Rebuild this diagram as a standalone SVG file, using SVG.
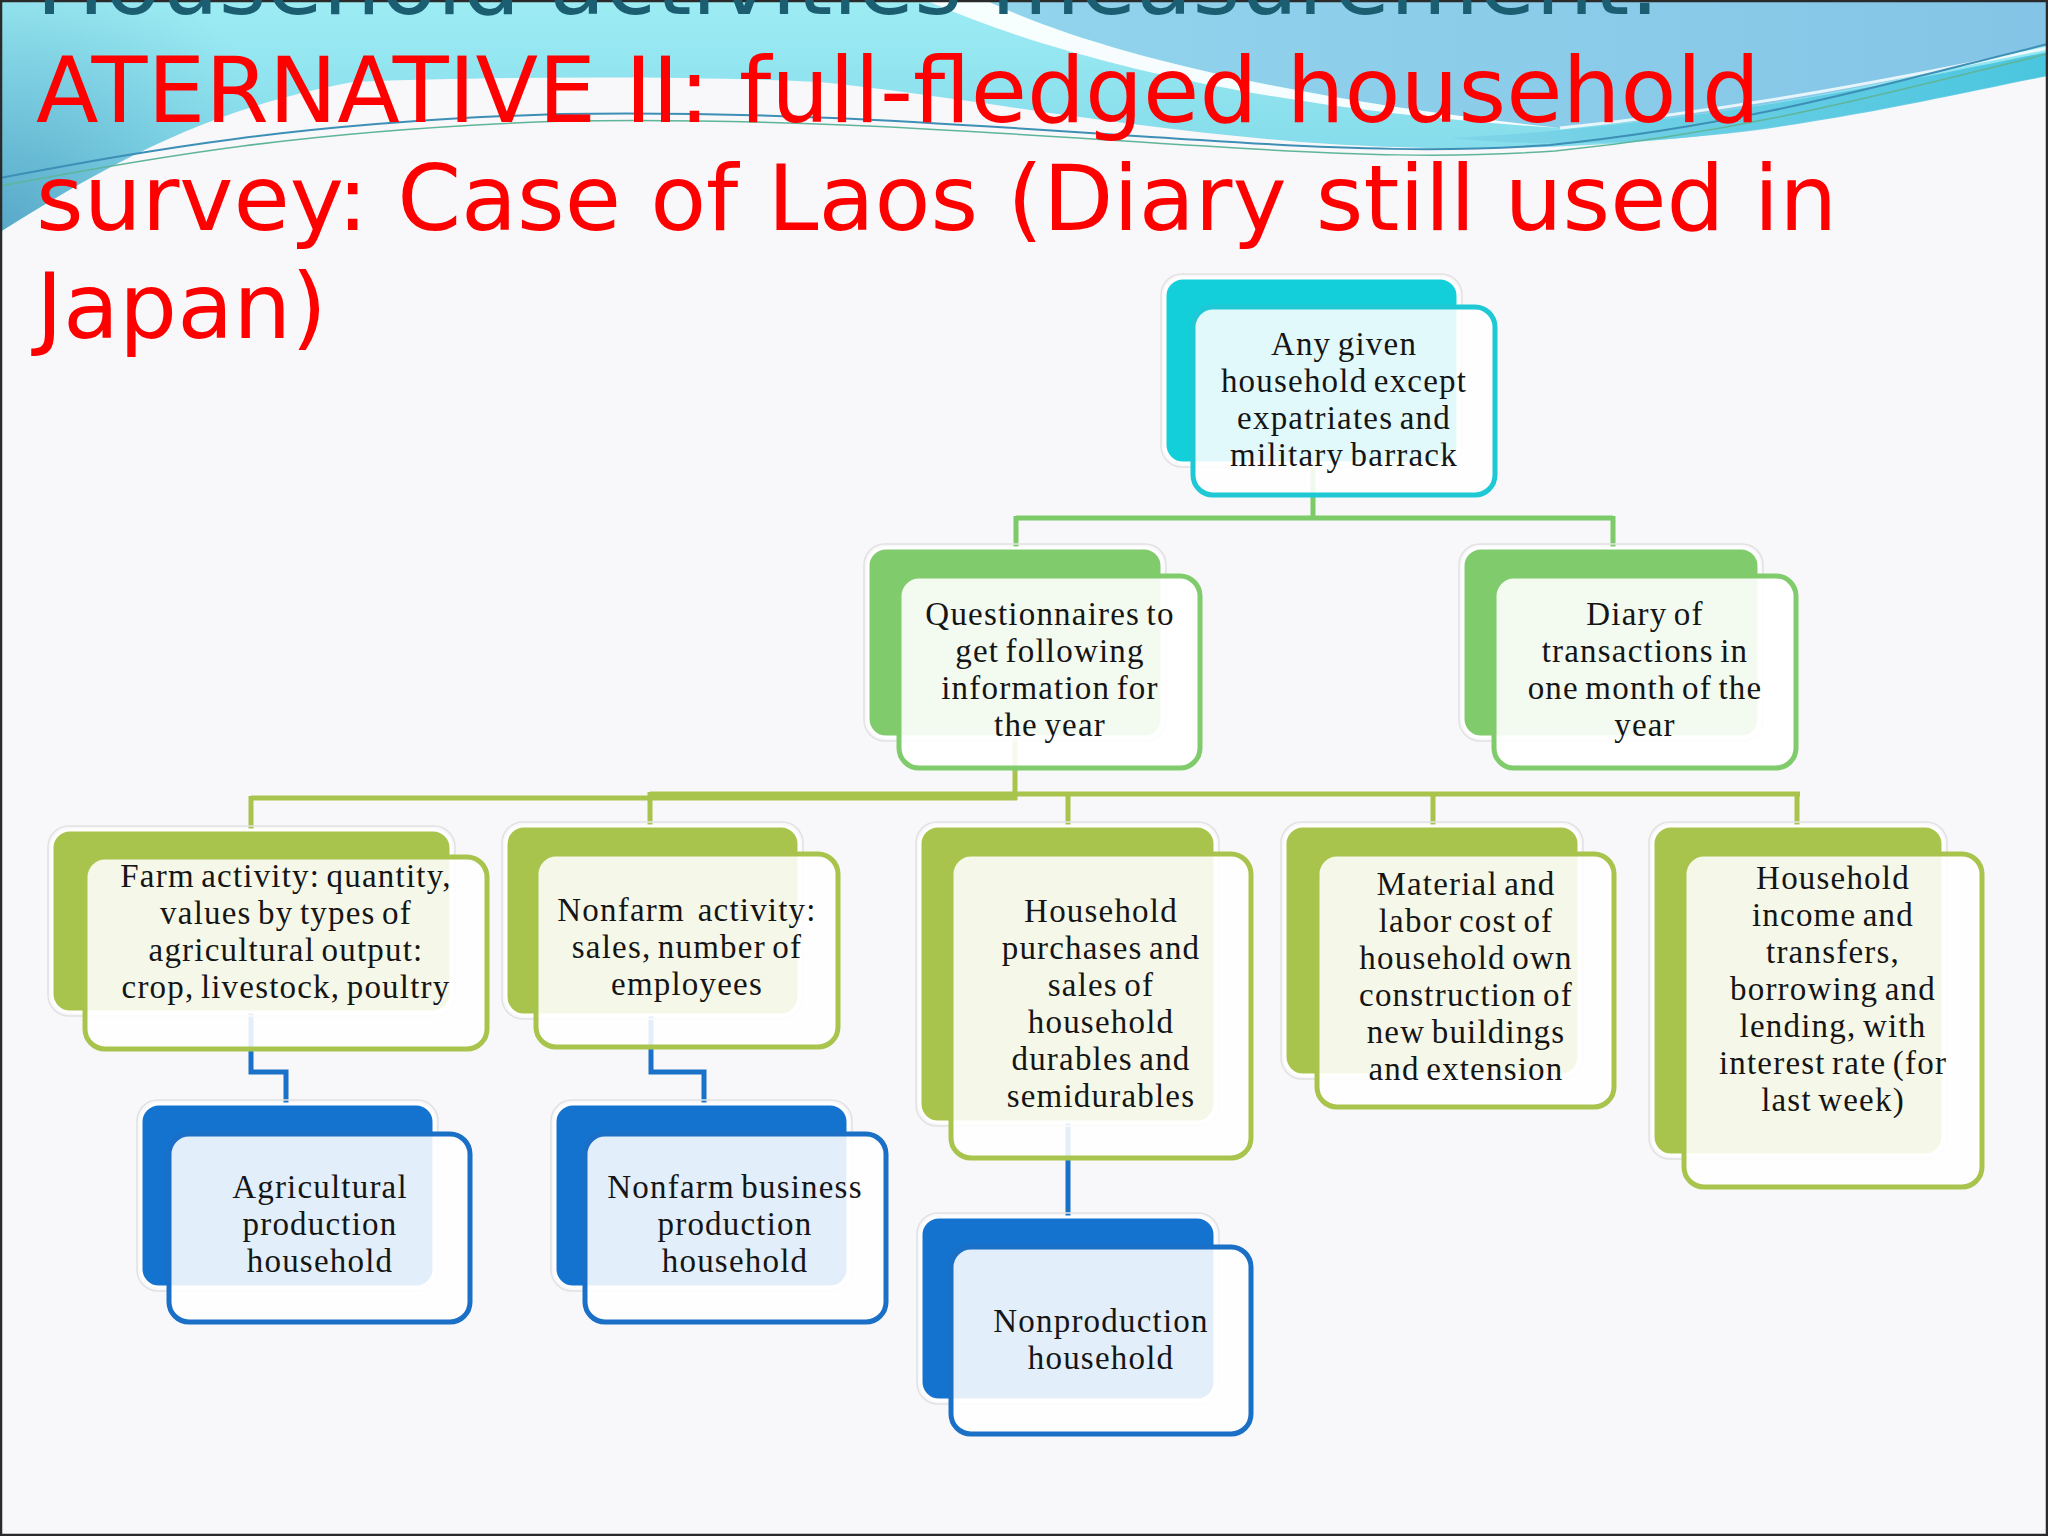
<svg xmlns="http://www.w3.org/2000/svg" width="2048" height="1536" viewBox="0 0 2048 1536">
<defs>
<linearGradient id="cyanMain" x1="0" y1="0" x2="0" y2="160" gradientUnits="userSpaceOnUse">
<stop offset="0" stop-color="#9DECF4"/>
<stop offset="1" stop-color="#84DBEA"/>
</linearGradient>
<radialGradient id="cornerDark" cx="0" cy="235" r="300" gradientUnits="userSpaceOnUse">
<stop offset="0" stop-color="#4F9DC2" stop-opacity="0.85"/>
<stop offset="0.6" stop-color="#5FB0CC" stop-opacity="0.35"/>
<stop offset="1" stop-color="#6FC0D6" stop-opacity="0"/>
</radialGradient>
<linearGradient id="blueR" x1="0" y1="0" x2="1" y2="0">
<stop offset="0" stop-color="#92D4EC"/>
<stop offset="1" stop-color="#84C5E7"/>
</linearGradient>
<linearGradient id="cyanR" x1="0" y1="0" x2="1" y2="0">
<stop offset="0" stop-color="#7FD3E7"/>
<stop offset="1" stop-color="#3DC0DC"/>
</linearGradient>
<style>
.title{font-family:"DejaVu Sans",sans-serif;font-size:91.5px;fill:#FF0000}
.title0{font-family:"DejaVu Sans",sans-serif;font-size:91.5px;fill:#1B5E72}
.lbl{font-family:"Liberation Serif","Times New Roman",serif;font-size:33px;fill:#151515;text-anchor:middle;letter-spacing:1.2px;word-spacing:-3px;white-space:pre}
.halo{fill:none;stroke:#E2E2E2;stroke-width:1.5}
.teal .back{fill:#12CFDA;stroke:#ffffff;stroke-width:3}
.teal .front{fill:#ffffff;fill-opacity:0.88;stroke:#1EC8D4;stroke-width:5}
.green .back{fill:#80CB6C;stroke:#ffffff;stroke-width:3}
.green .front{fill:#ffffff;fill-opacity:0.9;stroke:#80CB6C;stroke-width:5}
.olive .back{fill:#A8C44C;stroke:#ffffff;stroke-width:3}
.olive .front{fill:#ffffff;fill-opacity:0.88;stroke:#A8C44C;stroke-width:5}
.blue .back{fill:#1473CF;stroke:#ffffff;stroke-width:3}
.blue .front{fill:#ffffff;fill-opacity:0.88;stroke:#1A6FC6;stroke-width:5}
.cg{fill:none;stroke:#7DCA68;stroke-width:5}
.co{fill:none;stroke:#A8C44C;stroke-width:5}
.cb{fill:none;stroke:#1A72C8;stroke-width:5}
</style>
</defs>

<g id="background">
<rect x="0" y="0" width="2048" height="1536" fill="#F8F7FA"/>
<path d="M0,0 H2048 V75 C1970,90 1880,112 1750,130 C1600,150 1450,153 1300,142 C1100,125 950,95 820,82 C700,76 500,76 353,82 C200,110 100,170 0,232 Z" fill="url(#cyanMain)"/>
<path d="M0,0 H600 V80 C500,76 430,78 353,82 C200,110 100,170 0,232 Z" fill="url(#cornerDark)"/>
<path d="M985,0 H2048 V45 C1900,80 1750,115 1560,128 C1300,100 1100,55 985,0 Z" fill="url(#blueR)"/>
<path d="M925,0 L985,0 C1100,55 1300,100 1560,128 C1300,112 1080,68 925,0 Z" fill="#FFFFFF" opacity="0.92"/>
<path d="M1450,138 C1700,125 1900,82 2048,52 V76 C1970,91 1880,113 1750,131 C1650,143 1550,148 1450,138 Z" fill="url(#cyanR)" opacity="0.85"/>
<path d="M1560,128 C1750,108 1900,78 2048,48" fill="none" stroke="#FFFFFF" stroke-width="3" opacity="0.8"/>
<path d="M0,178 C150,150 300,122 560,114 C800,110 1000,128 1200,140 C1350,150 1450,152 1550,145 C1750,125 1900,80 2048,44" fill="none" stroke="#3D8FB6" stroke-width="2"/>
<path d="M0,186 C155,157 305,130 565,121 C805,117 1005,134 1205,146 C1355,156 1455,158 1555,151 C1755,131 1905,88 2048,54" fill="none" stroke="#5FB59A" stroke-width="1.5"/>
<rect x="1" y="1" width="2046" height="1534" fill="none" stroke="#2A2A2A" stroke-width="2.5"/>
</g>

<g id="title">
<text class="title0" x="36" y="14">Household activities measurement:</text>
<text class="title" x="36" y="122">ATERNATIVE II: full-fledged household</text>
<text class="title" x="36" y="230">survey: Case of Laos (Diary still used in</text>
<text class="title" x="36" y="338">Japan)</text>
</g>

<g id="connectors">
<path class="cg" d="M1313,463 V518 M1016,518 H1613 M1016,516 V548 M1613,516 V548"/>
<path class="co" d="M1015,737 V800 M251,798 H1017 M650,794 H1800 M251,796 V830 M650,792 V826 M1068,792 V826 M1433,792 V826 M1797,792 V826"/>
<path class="cb" d="M251,1012 V1072 H286 V1104 M651,1015 V1072 H704 V1104 M1068,1122 V1217"/>
</g>

<g id="n-top" class="teal">
<rect class="halo" x="1161" y="274" width="301" height="193" rx="21"/>
<rect class="back" x="1165" y="278" width="293" height="185" rx="18"/>
<rect class="front" x="1193" y="307" width="302" height="188" rx="20"/>
<text class="lbl" y="355"><tspan x="1344">Any given</tspan><tspan x="1344" dy="37">household except</tspan><tspan x="1344" dy="37">expatriates and</tspan><tspan x="1344" dy="37">military barrack</tspan></text>
</g>

<g id="n-questionnaires" class="green">
<rect class="halo" x="864" y="544" width="302" height="197" rx="21"/>
<rect class="back" x="868" y="548" width="294" height="189" rx="18"/>
<rect class="front" x="899" y="576" width="301" height="192" rx="20"/>
<text class="lbl" y="625"><tspan x="1050">Questionnaires to</tspan><tspan x="1050" dy="37">get following</tspan><tspan x="1050" dy="37">information for</tspan><tspan x="1050" dy="37">the year</tspan></text>
</g>

<g id="n-diary" class="green">
<rect class="halo" x="1459" y="544" width="304" height="197" rx="21"/>
<rect class="back" x="1463" y="548" width="296" height="189" rx="18"/>
<rect class="front" x="1494" y="576" width="302" height="192" rx="20"/>
<text class="lbl" y="625"><tspan x="1645">Diary of</tspan><tspan x="1645" dy="37">transactions in</tspan><tspan x="1645" dy="37">one month of the</tspan><tspan x="1645" dy="37">year</tspan></text>
</g>

<g id="n-farm" class="olive">
<rect class="halo" x="48" y="826" width="407" height="190" rx="21"/>
<rect class="back" x="52" y="830" width="399" height="182" rx="18"/>
<rect class="front" x="85" y="857" width="402" height="192" rx="20"/>
<text class="lbl" y="887"><tspan x="286">Farm activity: quantity,</tspan><tspan x="286" dy="37">values by types of</tspan><tspan x="286" dy="37">agricultural output:</tspan><tspan x="286" dy="37">crop, livestock, poultry</tspan></text>
</g>

<g id="n-nonfarm" class="olive">
<rect class="halo" x="502" y="822" width="301" height="197" rx="21"/>
<rect class="back" x="506" y="826" width="293" height="189" rx="18"/>
<rect class="front" x="536" y="854" width="302" height="193" rx="20"/>
<text class="lbl" y="921"><tspan x="687">Nonfarm  activity:</tspan><tspan x="687" dy="37">sales, number of</tspan><tspan x="687" dy="37">employees</tspan></text>
</g>

<g id="n-purchases" class="olive">
<rect class="halo" x="916" y="822" width="303" height="304" rx="21"/>
<rect class="back" x="920" y="826" width="295" height="296" rx="18"/>
<rect class="front" x="951" y="854" width="300" height="304" rx="20"/>
<text class="lbl" y="922"><tspan x="1101">Household</tspan><tspan x="1101" dy="37">purchases and</tspan><tspan x="1101" dy="37">sales of</tspan><tspan x="1101" dy="37">household</tspan><tspan x="1101" dy="37">durables and</tspan><tspan x="1101" dy="37">semidurables</tspan></text>
</g>

<g id="n-material" class="olive">
<rect class="halo" x="1281" y="822" width="302" height="257" rx="21"/>
<rect class="back" x="1285" y="826" width="294" height="249" rx="18"/>
<rect class="front" x="1317" y="854" width="297" height="253" rx="20"/>
<text class="lbl" y="895"><tspan x="1466">Material and</tspan><tspan x="1466" dy="37">labor cost of</tspan><tspan x="1466" dy="37">household own</tspan><tspan x="1466" dy="37">construction of</tspan><tspan x="1466" dy="37">new buildings</tspan><tspan x="1466" dy="37">and extension</tspan></text>
</g>

<g id="n-income" class="olive">
<rect class="halo" x="1649" y="822" width="298" height="337" rx="21"/>
<rect class="back" x="1653" y="826" width="290" height="329" rx="18"/>
<rect class="front" x="1684" y="854" width="298" height="333" rx="20"/>
<text class="lbl" y="889"><tspan x="1833">Household</tspan><tspan x="1833" dy="37">income and</tspan><tspan x="1833" dy="37">transfers,</tspan><tspan x="1833" dy="37">borrowing and</tspan><tspan x="1833" dy="37">lending, with</tspan><tspan x="1833" dy="37">interest rate (for</tspan><tspan x="1833" dy="37">last week)</tspan></text>
</g>

<g id="n-agricultural" class="blue">
<rect class="halo" x="137" y="1100" width="301" height="191" rx="21"/>
<rect class="back" x="141" y="1104" width="293" height="183" rx="18"/>
<rect class="front" x="169" y="1134" width="301" height="188" rx="20"/>
<text class="lbl" y="1198"><tspan x="320">Agricultural</tspan><tspan x="320" dy="37">production</tspan><tspan x="320" dy="37">household</tspan></text>
</g>

<g id="n-nonfarm-business" class="blue">
<rect class="halo" x="551" y="1100" width="301" height="191" rx="21"/>
<rect class="back" x="555" y="1104" width="293" height="183" rx="18"/>
<rect class="front" x="585" y="1134" width="301" height="188" rx="20"/>
<text class="lbl" y="1198"><tspan x="735">Nonfarm business</tspan><tspan x="735" dy="37">production</tspan><tspan x="735" dy="37">household</tspan></text>
</g>

<g id="n-nonproduction" class="blue">
<rect class="halo" x="917" y="1213" width="302" height="191" rx="21"/>
<rect class="back" x="921" y="1217" width="294" height="183" rx="18"/>
<rect class="front" x="951" y="1247" width="300" height="187" rx="20"/>
<text class="lbl" y="1332"><tspan x="1101">Nonproduction</tspan><tspan x="1101" dy="37">household</tspan></text>
</g>
</svg>
